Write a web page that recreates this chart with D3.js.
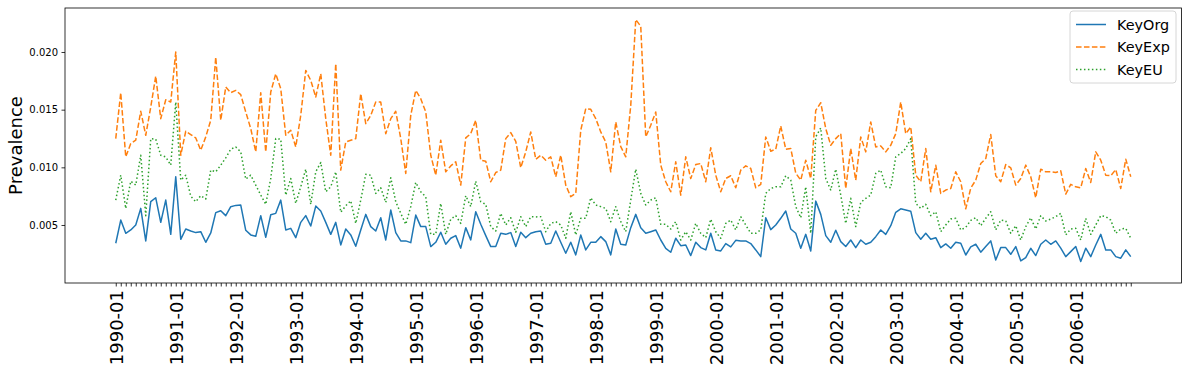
<!DOCTYPE html>
<html><head><meta charset="utf-8">
<script src="https://cdn.jsdelivr.net/npm/d3@7"></script>
<style>body{margin:0;background:#fff} svg{display:block;font-family:"DejaVu Sans",sans-serif}</style>
</head><body>
<svg id="c" width="1187" height="368"></svg>
<script>
// ---- data ----
const seriesNames = ["KeyOrg", "KeyExp", "KeyEU"];
const tickLabels = ["1990-01","1991-01","1992-01","1993-01","1994-01","1995-01","1996-01","1997-01","1998-01","1999-01","2000-01","2001-01","2002-01","2003-01","2004-01","2005-01","2006-01"];
const yTicks = [0.005, 0.010, 0.015, 0.020];
const keyOrg = [
0.00342,0.00543,0.00428,0.00457,0.00500,0.00644,0.00362,0.00702,0.00736,0.00523,0.00716,0.00419,0.00918,0.00376,0.00465,0.00448,
0.00434,0.00442,0.00350,0.00431,0.00607,0.00624,0.00581,0.00659,0.00670,0.00673,0.00454,0.00414,0.00402,0.00581,0.00393,0.00589,
0.00601,0.00716,0.00457,0.00471,0.00390,0.00523,0.00581,0.00491,0.00664,0.00621,0.00523,0.00419,0.00523,0.00327,0.00465,0.00414,
0.00316,0.00457,0.00592,0.00486,0.00448,0.00563,0.00370,0.00630,0.00434,0.00362,0.00362,0.00347,0.00586,0.00486,0.00486,0.00313,
0.00350,0.00437,0.00333,0.00385,0.00408,0.00299,0.00477,0.00370,0.00615,0.00506,0.00408,0.00313,0.00313,0.00428,0.00419,0.00434,
0.00313,0.00437,0.00390,0.00428,0.00442,0.00448,0.00333,0.00342,0.00448,0.00350,0.00255,0.00350,0.00241,0.00414,0.00284,0.00350,
0.00350,0.00399,0.00356,0.00241,0.00465,0.00333,0.00327,0.00477,0.00592,0.00477,0.00428,0.00442,0.00457,0.00370,0.00298,0.00264,
0.00385,0.00321,0.00327,0.00235,0.00350,0.00304,0.00284,0.00428,0.00284,0.00275,0.00339,0.00310,0.00367,0.00362,0.00362,0.00339,
0.00284,0.00226,0.00563,0.00460,0.00500,0.00558,0.00621,0.00465,0.00428,0.00299,0.00419,0.00275,0.00707,0.00592,0.00408,0.00350,
0.00454,0.00356,0.00313,0.00370,0.00304,0.00370,0.00333,0.00350,0.00399,0.00457,0.00419,0.00494,0.00610,0.00640,0.00630,0.00620,
0.00434,0.00376,0.00428,0.00376,0.00390,0.00304,0.00336,0.00298,0.00350,0.00342,0.00240,0.00310,0.00333,0.00264,0.00313,0.00362,
0.00197,0.00304,0.00304,0.00246,0.00313,0.00189,0.00218,0.00298,0.00235,0.00333,0.00370,0.00333,0.00362,0.00299,0.00226,0.00269,
0.00313,0.00183,0.00299,0.00226,0.00327,0.00419,0.00284,0.00284,0.00226,0.00212,0.00284,0.00226];
const keyExp = [
0.01249,0.01647,0.01091,0.01206,0.01235,0.01486,0.01278,0.01523,0.01791,0.01422,0.01586,0.01566,0.01999,0.01105,0.01313,0.01284,
0.01255,0.01148,0.01264,0.01408,0.01955,0.01408,0.01696,0.01647,0.01667,0.01630,0.01480,0.01336,0.01134,0.01647,0.01134,0.01653,
0.01811,0.01682,0.01278,0.01321,0.01177,0.01451,0.01840,0.01754,0.01610,0.01811,0.01422,0.01105,0.01898,0.00976,0.01220,0.01235,
0.01249,0.01638,0.01379,0.01451,0.01566,0.01566,0.01292,0.01422,0.01486,0.01249,0.00947,0.01451,0.01667,0.01595,0.01480,0.01105,
0.00932,0.01235,0.00961,0.01012,0.01048,0.00846,0.01255,0.01292,0.01408,0.01062,0.01053,0.00875,0.00955,0.00976,0.01249,0.01301,
0.01226,0.00996,0.01134,0.01307,0.01070,0.01105,0.01062,0.01091,0.00918,0.01105,0.00846,0.00745,0.00774,0.01321,0.01509,0.01503,
0.01422,0.01307,0.01220,0.00961,0.01393,0.01180,0.01091,0.01537,0.02281,0.02223,0.01264,0.01365,0.01480,0.01019,0.00875,0.00788,
0.01048,0.00759,0.01091,0.00903,0.01024,0.01033,0.00875,0.01170,0.00932,0.00788,0.00903,0.00927,0.00823,0.00976,0.01013,0.00990,
0.00823,0.00852,0.01264,0.01140,0.01157,0.01359,0.01157,0.01163,0.00950,0.00889,0.01062,0.00903,0.01494,0.01560,0.01336,0.01192,
0.01249,0.01292,0.00817,0.01163,0.00889,0.01264,0.01134,0.01393,0.01177,0.01186,0.01134,0.01192,0.01292,0.01566,0.01292,0.01350,
0.00932,0.00875,0.01163,0.00788,0.01019,0.00774,0.00803,0.00817,0.00961,0.00875,0.00640,0.00820,0.00889,0.01033,0.01076,0.01284,
0.00927,0.00875,0.01024,0.00996,0.00846,0.00903,0.01019,0.00918,0.00736,0.00984,0.00961,0.00961,0.00955,0.00970,0.00768,0.00852,
0.00831,0.00823,0.00990,0.00869,0.01134,0.01062,0.00932,0.00927,0.00981,0.00817,0.01071,0.00918];
const keyEU = [
0.00716,0.00932,0.00644,0.00880,0.00846,0.01105,0.00581,0.01249,0.01244,0.01105,0.01090,0.01019,0.01566,0.00889,0.00932,0.00750,
0.00702,0.00754,0.00725,0.00976,0.00961,0.01019,0.01082,0.01157,0.01177,0.01134,0.00898,0.00932,0.00846,0.00759,0.00679,0.00903,
0.01249,0.01244,0.00759,0.00903,0.00687,0.00831,0.00984,0.00679,0.00961,0.01042,0.00788,0.00831,0.00961,0.00610,0.00667,0.00710,
0.00514,0.00716,0.00940,0.00932,0.00774,0.00823,0.00696,0.00909,0.00702,0.00601,0.00506,0.00659,0.00869,0.00788,0.00745,0.00419,
0.00419,0.00687,0.00419,0.00550,0.00581,0.00514,0.00754,0.00659,0.00880,0.00702,0.00679,0.00486,0.00448,0.00601,0.00500,0.00563,
0.00437,0.00572,0.00486,0.00572,0.00570,0.00572,0.00442,0.00514,0.00529,0.00500,0.00385,0.00615,0.00414,0.00558,0.00558,0.00736,
0.00673,0.00659,0.00644,0.00529,0.00659,0.00529,0.00442,0.00716,0.00984,0.00774,0.00673,0.00716,0.00736,0.00506,0.00506,0.00465,
0.00529,0.00370,0.00442,0.00370,0.00514,0.00428,0.00390,0.00550,0.00442,0.00385,0.00514,0.00543,0.00457,0.00572,0.00500,0.00428,
0.00428,0.00457,0.00774,0.00817,0.00831,0.00831,0.00927,0.00889,0.00660,0.00563,0.00831,0.00428,0.01264,0.01342,0.00903,0.00803,
0.00984,0.00759,0.00514,0.00731,0.00486,0.00696,0.00731,0.00759,0.00947,0.00976,0.00831,0.00823,0.01091,0.01120,0.01163,0.01249,
0.00687,0.00644,0.00679,0.00581,0.00615,0.00442,0.00500,0.00552,0.00558,0.00457,0.00480,0.00540,0.00563,0.00494,0.00558,0.00615,
0.00457,0.00543,0.00535,0.00428,0.00494,0.00370,0.00486,0.00563,0.00465,0.00581,0.00535,0.00552,0.00572,0.00601,0.00414,0.00465,
0.00471,0.00370,0.00558,0.00419,0.00500,0.00581,0.00572,0.00543,0.00428,0.00465,0.00471,0.00385];

// ---- layout ----
const M = {left: 65, right: 1181.5, top: 8, bottom: 283};
const months = d3.timeMonth.range(new Date(1990, 0, 1), new Date(2007, 0, 1)).map(d3.timeFormat("%Y-%m"));
const svg = d3.select("#c");

const x = d3.scalePoint().domain(months).range([M.left, M.right]).padding(10.15);
const y = d3.scaleLinear().domain([-0.000029, 0.023815]).range([M.bottom, M.top]);

const colors = ["#1f77b4", "#ff7f0e", "#2ca02c"];
const dashes = [null, "5.55,2.4", "1.5,2.475"];
const allSeries = [keyOrg, keyExp, keyEU];

// lines
const line = d3.line().x((d, i) => x(months[i])).y(d => y(d));
const gLines = svg.append("g");
allSeries.forEach((s, k) => {
  gLines.append("path").datum(s).attr("d", line)
    .attr("fill", "none").attr("stroke", colors[k]).attr("stroke-width", 1.5)
    .attr("stroke-dasharray", dashes[k]).attr("stroke-linejoin", "round");
});

// frame
svg.append("rect").attr("x", M.left).attr("y", M.top)
  .attr("width", M.right - M.left).attr("height", M.bottom - M.top)
  .attr("fill", "none").attr("stroke", "#000").attr("stroke-width", 0.8);

// x axis
const xAxis = d3.axisBottom(x).tickValues(months).tickSize(3.5)
  .tickFormat(d => tickLabels.includes(d) ? d : "");
const gx = svg.append("g").attr("transform", `translate(0,${M.bottom})`).call(xAxis);
gx.select(".domain").remove();
gx.selectAll(".tick line").attr("stroke", "#000").attr("stroke-width", 0.8);
gx.selectAll(".tick text")
  .attr("transform", "rotate(-90)")
  .attr("x", -7).attr("y", 0).attr("dy", "0.35em")
  .attr("text-anchor", "end")
  .attr("font-size", 18).attr("font-family", "DejaVu Sans").attr("fill", "#000");

// y axis
const yAxis = d3.axisLeft(y).tickValues(yTicks).tickSize(3.5).tickPadding(3.5).tickFormat(d3.format(".3f"));
const gy = svg.append("g").attr("transform", `translate(${M.left},0)`).call(yAxis);
gy.select(".domain").remove();
gy.selectAll(".tick line").attr("stroke", "#000").attr("stroke-width", 0.8);
gy.selectAll(".tick text").attr("font-size", 10).attr("font-family", "DejaVu Sans").attr("fill", "#000");

// y label
svg.append("text").attr("transform", `translate(22,${(M.top + M.bottom) / 2}) rotate(-90)`)
  .attr("text-anchor", "middle").attr("font-size", 18).attr("font-family", "DejaVu Sans")
  .text("Prevalence");

// legend
const F = 14.4;
const lg = svg.append("g");
lg.append("rect").attr("x", 1070).attr("y", 11).attr("width", 106).attr("height", 72)
  .attr("rx", 3).attr("fill", "#fff").attr("fill-opacity", 0.8).attr("stroke", "#ccc").attr("stroke-width", 0.8);
seriesNames.forEach((n, k) => {
  const yy = 24.5 + k * 22.5;
  lg.append("line").attr("x1", 1076).attr("x2", 1106).attr("y1", yy).attr("y2", yy)
    .attr("stroke", colors[k]).attr("stroke-width", 1.5).attr("stroke-dasharray", dashes[k]);
  lg.append("text").attr("x", 1117).attr("y", yy).attr("dy", "0.35em")
    .attr("font-size", F).attr("font-family", "DejaVu Sans").text(n);
});
</script>
</body></html>
